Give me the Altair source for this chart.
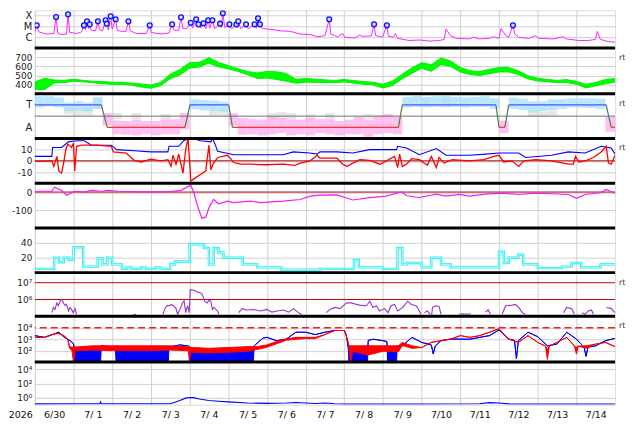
import json
import altair as alt
import pandas as pd
import numpy as np

# ---------------- labels ----------------
DAY_LABELS = ["6/30", "7/ 1", "7/ 2", "7/ 3", "7/ 4", "7/ 5", "7/ 6", "7/ 7",
              "7/ 8", "7/ 9", "7/10", "7/11", "7/12", "7/13", "7/14"]
YEAR_LABEL = "2026"
RT_LABEL = "rt"

# ---------------- panel 1: X-ray flux (log10 W/m2), time in days from 6/30 00:00 ----------------
XR_T = [0.00, 0.05, 0.10, 0.31, 0.49, 0.55, 0.59, 0.69, 0.82, 0.86,
        0.90, 1.08, 1.21, 1.27, 1.31, 1.35, 1.39, 1.42, 1.46, 1.57,
        1.63, 1.67, 1.75, 1.83, 1.86, 1.90, 1.96, 2.00, 2.09, 2.13,
        2.23, 2.36, 2.42, 2.47, 2.62, 2.88, 2.97, 3.01, 3.26, 3.47,
        3.55, 3.60, 3.72, 3.78, 3.83, 3.93, 4.03, 4.08, 4.17, 4.20,
        4.23, 4.29, 4.36, 4.42, 4.48, 4.52, 4.59, 4.65, 4.79, 4.82,
        4.86, 4.91, 5.03, 5.09, 5.21, 5.23, 5.26, 5.32, 5.46, 5.52,
        5.68, 5.73, 5.77, 5.80, 5.82, 5.88, 6.09, 6.34, 6.60, 6.86,
        7.12, 7.32, 7.50, 7.61, 7.65, 7.83, 7.96, 8.01, 8.27, 8.40,
        8.45, 8.70, 8.77, 8.81, 8.99, 9.10, 9.14, 9.27, 9.32, 9.38,
        9.68, 9.94, 10.20, 10.46, 10.58, 10.63, 10.76, 10.92, 11.22, 11.35,
        11.48, 11.74, 11.87, 12.00, 12.05, 12.18, 12.25, 12.36, 12.41, 12.51,
        12.77, 12.95, 13.02, 13.40, 13.66, 13.74, 14.06, 14.31, 14.49, 14.54,
        14.62, 14.83, 15.00]
XR_LOG = [-5.55, -4.89, -5.5, -5.7, -5.65, -4.12, -5.6, -5.75, -5.7, -3.87,
          -5.55, -5.65, -5.5, -4.89, -5.3, -4.52, -5.2, -4.80, -5.35, -5.4,
          -4.52, -5.3, -5.4, -4.42, -4.74, -5.3, -4.05, -5.25, -4.33, -5.35,
          -5.45, -5.45, -4.52, -5.4, -5.65, -5.65, -4.89, -5.55, -5.7, -5.6,
          -4.80, -5.35, -5.35, -4.14, -5.2, -5.2, -4.65, -5.15, -4.33, -5.0,
          -4.80, -5.15, -4.70, -5.2, -4.42, -5.15, -4.42, -5.2, -4.74, -5.1,
          -3.77, -5.1, -4.80, -5.2, -4.80, -5.1, -4.52, -5.2, -4.80, -5.2,
          -4.80, -5.15, -4.24, -5.0, -4.80, -5.2, -5.25, -5.4, -5.45, -5.7,
          -5.75, -5.95, -5.85, -4.33, -5.7, -5.95, -5.65, -6.0, -6.07, -5.8,
          -5.9, -5.88, -4.80, -5.85, -5.98, -4.89, -5.9, -6.0, -5.65, -6.1,
          -6.3, -6.25, -6.35, -6.3, -6.2, -5.25, -5.9, -6.1, -6.15, -6.0,
          -6.15, -6.1, -5.95, -6.1, -5.2, -5.85, -6.0, -4.89, -5.7, -6.0,
          -6.1, -5.85, -6.1, -6.15, -5.95, -6.15, -6.3, -6.3, -6.2, -5.45,
          -6.2, -6.4, -6.45]
FLARE_T = [0.05, 0.55, 0.86, 1.27, 1.35, 1.42, 1.63, 1.83, 1.86, 1.96,
           2.09, 2.42, 2.97, 3.55, 3.78, 4.03, 4.17, 4.23, 4.36, 4.48,
           4.59, 4.79, 4.86, 5.03, 5.21, 5.26, 5.46, 5.68, 5.77, 5.82,
           7.61, 8.77, 9.10, 12.36]
FLARE_LOG = [-4.89, -4.12, -3.87, -4.89, -4.52, -4.80, -4.52, -4.42, -4.74, -4.05,
             -4.33, -4.52, -4.89, -4.80, -4.14, -4.65, -4.33, -4.80, -4.70, -4.42,
             -4.42, -4.74, -3.77, -4.80, -4.80, -4.52, -4.80, -4.80, -4.24, -4.80,
             -4.33, -4.80, -4.89, -4.89]

# ---------------- panel 2: solar wind speed trace extent (km/s), every 6 h ----------------
SPEED_LO = [351, 345, 419, 422, 438, 431, 420, 410, 403, 403,
            395, 375, 361, 388, 465, 505, 580, 594, 635, 594,
            573, 545, 509, 468, 472, 456, 438, 416, 427, 425,
            423, 422, 430, 416, 404, 397, 364, 391, 465, 524,
            580, 546, 620, 598, 539, 511, 500, 520, 539, 539,
            511, 462, 441, 432, 422, 423, 404, 364, 388, 409, 427]
SPEED_HI = [429, 470, 451, 446, 458, 447, 436, 435, 426, 426,
            416, 407, 395, 423, 513, 565, 640, 643, 695, 643,
            609, 573, 543, 528, 544, 540, 522, 458, 467, 460,
            452, 446, 456, 444, 434, 425, 404, 439, 513, 584,
            640, 618, 692, 658, 587, 552, 541, 568, 587, 587,
            552, 498, 470, 457, 446, 455, 434, 404, 423, 457, 467]

# ---------------- panel 3: IMF angle spread (deg) per 6-h bin, sector line ----------------
PHI_LO = [295, 305, 295, 265, 270, 262, 285, 150, 80, 75,
          70, 80, 70, 80, 80, 120, 280, 270, 270, 262,
          150, 75, 80, 70, 80, 90, 70, 80, 70, 90,
          80, 70, 80, 80, 60, 80, 90, 80, 295, 300,
          295, 300, 295, 300, 295, 300, 300, 285, 90, 285,
          275, 255, 265, 275, 285, 295, 295, 290, 285, 100]
PHI_HI = [385, 385, 375, 335, 345, 335, 380, 250, 190, 185,
          195, 185, 185, 195, 200, 250, 360, 355, 350, 340,
          250, 210, 200, 195, 220, 210, 200, 195, 210, 200,
          200, 185, 195, 220, 195, 230, 240, 220, 380, 388,
          380, 385, 388, 380, 375, 380, 385, 370, 190, 375,
          365, 345, 345, 360, 360, 370, 370, 370, 365, 220]
GREY_T = [0.75, 1.0, 1.25, 1.5, 2.0, 2.5, 3.25, 4.5, 4.75, 6.0,
          6.25, 6.5, 7.0, 7.5, 8.5, 10.0, 10.5, 12.75, 13.0, 13.25]
GREY_LO = [240, 230, 230, 280, 200, 200, 190, 230, 230, 190,
           200, 200, 180, 200, 200, 300, 300, 220, 220, 230]
GREY_HI = [300, 290, 300, 370, 250, 250, 240, 280, 280, 250,
           260, 250, 240, 250, 240, 370, 370, 260, 260, 270]
SECTOR_T = [0, 1.72, 1.87, 3.88, 4.01, 5.01, 5.11, 9.40, 9.50, 11.92,
            12.0, 12.15, 12.25, 14.77, 14.90, 15.0]
SECTOR_PHI = [315, 315, 135, 135, 315, 315, 135, 135, 315, 315,
              135, 135, 315, 315, 135, 135]

# ---------------- panel 4: IMF Bt / Bz (nT) ----------------
BT_T = [0, 0.44, 0.46, 0.69, 0.87, 1.08, 1.28, 1.46, 1.98, 2.11,
        2.57, 3.0, 3.44, 3.47, 3.72, 3.85, 3.96, 4.08, 4.29, 4.55,
        4.60, 4.73, 5.14, 5.57, 6.42, 6.68, 7.11, 7.30, 7.37, 7.81,
        8.22, 8.66, 9.35, 9.38, 9.61, 9.94, 10.38, 10.63, 11.23, 11.66,
        12.0, 12.51, 12.69, 13.36, 13.79, 14.23, 14.64, 14.90, 15.0]
BT_V = [4, 4, 12, 12, 17, 18, 18, 14, 14, 10,
        9, 8, 8, 13, 13, 18, 20, 20, 18, 17,
        20, 8.5, 5.5, 5.5, 5.5, 8, 7, 6, 8, 8,
        7, 10, 10, 13, 11.5, 5.5, 11, 5, 5, 6,
        7, 7, 3, 5, 8, 7, 13, 11.5, 6]
BZ_T = [0, 0.44, 0.49, 0.57, 0.62, 0.69, 0.74, 0.80, 0.85, 0.95,
        1.0, 1.03, 1.08, 1.21, 1.59, 1.98, 2.03, 2.36, 2.49, 2.57,
        2.75, 3.0, 3.26, 3.44, 3.52, 3.57, 3.65, 3.72, 3.83, 3.9,
        3.96, 4.01, 4.03, 4.16, 4.29, 4.42, 4.50, 4.55, 4.62, 4.73,
        4.98, 5.06, 5.14, 5.32, 5.57, 5.96, 6.42, 6.73, 6.86, 7.12,
        7.30, 7.37, 7.81, 7.96, 8.07, 8.22, 8.40, 8.66, 8.92, 9.09,
        9.30, 9.38, 9.43, 9.50, 9.61, 9.74, 9.94, 10.15, 10.25, 10.38,
        10.45, 10.58, 10.79, 11.23, 11.61, 11.87, 12.0, 12.12, 12.33, 12.51,
        12.64, 12.95, 13.36, 13.66, 13.79, 13.92, 13.98, 14.06, 14.23, 14.44,
        14.64, 14.77, 14.83, 14.90, 15.0]
BZ_V = [-0.5, 0, -5, 4, -9, -11, -3, 10, 15, 12,
        16, -9, 13, 14, 14, 13, 8, 7, 3, 0.5,
        -1, 1.5, 0, 1, -5, 5, -3, 6, -11, 10,
        20, -5, -18, -15, -12, -9, 14, -8, -2, 3,
        5, 2, -1.5, -3, -3, -3.5, -3, -4, -2, 0,
        5, 2.5, 2.5, -3, -5, -2, 1, 0.5, -3, 0,
        4, -6, 6, -5, -3, 2, 1, -4, 4, -6,
        3, -2, 1, 0, 1, 4, 5, -1, 0, -5,
        0, 1, 0, -2, -3, -3, 4, -1, 0, 3,
        8, 13, -2, -3, 5]

# ---------------- panel 5: Dst (nT) ----------------
DST_T = [0, 0.44, 0.51, 0.64, 0.69, 0.82, 1.03, 1.28, 1.46, 1.72,
         1.90, 2.16, 2.75, 3.44, 3.78, 4.03, 4.11, 4.21, 4.32, 4.42,
         4.50, 4.62, 4.75, 4.98, 5.14, 5.57, 5.83, 6.42, 6.86, 7.12,
         7.37, 7.81, 8.22, 8.66, 9.09, 9.48, 9.61, 9.94, 10.38, 10.63,
         10.97, 11.23, 11.66, 12.07, 12.51, 12.95, 13.36, 13.79, 14.0, 14.23,
         14.64, 14.77, 15.0]
DST_V = [5, 5, 28, 15, 10, -17, 5, 0, 10, 5,
         10, 5, 2, 2, 10, 39, -2, -80, -146, -140,
         -87, -41, -65, -50, -59, -50, -59, -50, -41, -22,
         -17, -15, -44, -31, -22, 2, -20, -30, -11, -22,
         -13, -22, -11, -6, -13, -6, -9, -13, -35, -13,
         -2, 15, -6]

# ---------------- panel 6: 3-hourly index ----------------
KP_V = [5, 5, 5, 5, 20, 14, 20, 17, 34, 34,
        8, 8, 8, 19, 11, 20, 11, 11, 5, 7,
        5, 5, 7, 5, 5, 7, 5, 5, 11, 15,
        15, 15, 38, 38, 38, 33, 11, 33, 27, 20,
        20, 20, 20, 11, 11, 11, 7, 7, 7, 7,
        7, 4, 4, 4, 4, 4, 4, 4, 4, 5,
        5, 5, 5, 5, 5, 5, 17, 7, 7, 7,
        7, 7, 5, 5, 5, 33, 11, 13, 13, 13,
        7, 7, 20, 20, 11, 11, 7, 7, 7, 7,
        7, 7, 7, 7, 7, 7, 28, 13, 20, 20,
        24, 11, 11, 11, 6, 6, 6, 6, 6, 8,
        8, 13, 13, 7, 7, 7, 7, 11, 11, 11,
        11]

# ---------------- panel 7: particle fluence (log10), visible segments ----------------
PF_SEG_T = [
    [0.44, 0.48, 0.52, 0.57, 0.61, 0.65, 0.69, 0.74, 0.78, 0.82, 0.87, 0.91, 0.95, 0.99, 1.04, 1.08],
    [2.55, 2.58, 2.62],
    [3.31, 3.37, 3.43, 3.48, 3.52, 3.59, 3.65, 3.69, 3.75, 3.82, 3.86, 3.90, 3.95, 3.99,
     4.02, 4.12, 4.20, 4.29, 4.33, 4.39, 4.46, 4.50, 4.55, 4.59, 4.63, 4.72, 4.76],
    [5.27, 5.36, 5.49, 5.66, 5.83, 6.00, 6.13, 6.26, 6.43, 6.56, 6.69, 6.81, 6.90],
    [7.54, 7.63, 7.76, 7.89, 8.06, 8.19, 8.32, 8.44, 8.57, 8.66, 8.74, 8.83, 8.91, 9.04,
     9.13, 9.21, 9.30, 9.38, 9.51, 9.64, 9.73, 9.86, 9.94, 9.98],
    [10.07, 10.15, 10.22],
    [10.26, 10.28, 10.37, 10.45, 10.50],
    [10.97, 11.07, 11.17, 11.27],
    [11.65, 11.72, 11.78],
    [12.08, 12.17, 12.30, 12.43, 12.51, 12.60, 12.68],
    [13.67, 13.75, 13.88, 13.95],
    [14.14, 14.22, 14.31, 14.39, 14.44],
    [14.78, 14.91, 14.99],
]
PF_SEG_LOG = [
    [5.22, 5.53, 5.41, 5.80, 5.63, 5.90, 6.00, 5.80, 5.65, 5.71, 5.32, 5.53, 5.41, 5.22, 5.46, 5.12],
    [5.08, 5.12, 5.08],
    [5.12, 5.50, 5.65, 5.63, 5.71, 5.63, 5.46, 5.12, 5.41, 5.80, 5.92, 5.22, 5.63, 5.22,
     6.59, 6.55, 6.45, 6.39, 6.29, 5.90, 5.80, 5.96, 5.90, 5.41, 5.53, 5.32, 5.12],
    [5.22, 5.46, 5.38, 5.41, 5.32, 5.41, 5.25, 5.32, 5.38, 5.25, 5.46, 5.22, 5.12],
    [5.22, 5.41, 5.53, 5.46, 5.80, 5.80, 5.71, 5.65, 5.63, 5.90, 5.53, 5.63, 5.32, 5.46,
     5.22, 5.63, 5.71, 5.32, 5.53, 5.90, 5.71, 5.63, 5.32, 5.12],
    [5.22, 5.32, 5.12],
    [5.10, 5.53, 5.63, 5.59, 5.12],
    [5.12, 5.15, 5.12, 5.15],
    [5.25, 5.38, 5.12],
    [5.12, 5.63, 5.65, 5.71, 5.53, 5.22, 5.12],
    [5.22, 5.53, 5.46, 5.12],
    [5.22, 5.12, 5.32, 5.38, 5.12],
    [5.53, 5.46, 5.22],
]

# ---------------- panel 8: electron flux (log10), top / bottom of trace ----------------
EB_T = [0, 0.25, 0.5, 0.62, 0.75, 0.9, 1.0, 1.02, 1.7, 1.72,
        2.08, 2.1, 3.45, 3.47, 3.75, 3.98, 4.0, 5.65, 5.67, 5.9,
        6.0, 6.25, 6.5, 6.75, 7.0, 7.25, 7.5, 7.75, 8.0, 8.05,
        8.1, 8.12, 8.6, 8.62, 8.75, 9.0, 9.1, 9.12, 9.35, 9.37,
        9.5, 9.75, 10.0, 10.25, 10.3, 10.35, 10.5, 10.75, 11.0, 11.25,
        11.5, 11.75, 12.0, 12.25, 12.4, 12.45, 12.5, 12.75, 13.0, 13.25,
        13.5, 13.75, 14.0, 14.2, 14.25, 14.3, 14.5, 14.75, 15.0]
EB_HI = [3.31, 3.16, 3.46, 3.61, 3.2, 2.9, 2.6, 2.3, 2.2, 2.42,
         2.3, 2.1, 2.1, 2.3, 2.5, 2.4, 2.05, 2.05, 2.42, 3.1,
         3.16, 2.87, 3.01, 3.61, 3.61, 3.4, 3.61, 3.76, 3.76, 3.4,
         2.3, 2.1, 2.1, 2.9, 3.0, 2.87, 2.8, 2.2, 2.2, 2.42,
         2.42, 3.16, 2.72, 2.5, 1.7, 2.4, 2.87, 3.01, 3.01, 3.0,
         3.16, 3.31, 3.81, 3.01, 2.9, 1.3, 2.87, 3.61, 3.22, 2.42,
         2.57, 3.61, 3.01, 2.3, 1.5, 2.3, 2.42, 2.87, 3.07]
EB_LO = [3.31, 3.16, 3.46, 3.61, 3.2, 2.9, 2.6, 1.0, 1.0, 2.42,
         2.3, 1.0, 1.0, 2.3, 2.5, 2.4, 1.0, 1.0, 2.42, 3.1,
         3.16, 2.87, 3.01, 3.61, 3.61, 3.4, 3.61, 3.76, 3.76, 3.4,
         2.3, 1.0, 1.0, 2.9, 3.0, 2.87, 2.8, 1.0, 1.0, 2.42,
         2.42, 3.16, 2.72, 2.5, 1.7, 2.4, 2.87, 3.01, 3.01, 3.0,
         3.16, 3.31, 3.81, 3.01, 2.9, 1.3, 2.87, 3.61, 3.22, 2.42,
         2.57, 3.61, 3.01, 2.3, 1.5, 2.3, 2.42, 2.87, 3.07]
ER_T = [0, 0.25, 0.5, 0.62, 0.75, 0.85, 0.9, 0.96, 1.0, 1.04,
        1.2, 1.5, 2.0, 2.5, 3.0, 3.5, 3.9, 3.97, 4.0, 4.03,
        4.1, 4.5, 5.0, 5.5, 5.75, 6.0, 6.25, 6.5, 6.75, 7.0,
        7.25, 7.5, 7.75, 8.0, 8.08, 8.12, 8.17, 8.22, 8.3, 8.6,
        9.0, 9.4, 9.5, 9.75, 10.0, 10.25, 10.5, 10.75, 11.0, 11.25,
        11.5, 11.75, 12.0, 12.25, 12.5, 12.75, 13.0, 13.2, 13.25, 13.3,
        13.5, 13.75, 13.95, 14.0, 14.05, 14.25, 14.5, 14.75, 15.0]
ER_HI = [3.16, 3.16, 3.46, 3.5, 3.31, 3.0, 2.35, 2.3, 2.3, 2.3,
         2.35, 2.42, 2.42, 2.42, 2.42, 2.42, 2.35, 2.3, 2.3, 2.3,
         2.27, 2.2, 2.27, 2.35, 2.35, 2.5, 2.8, 3.01, 3.16, 3.16,
         3.16, 3.4, 3.76, 3.76, 3.0, 2.42, 2.42, 2.42, 2.42, 2.42,
         2.42, 2.42, 2.72, 2.42, 2.27, 2.72, 2.87, 3.01, 3.31, 3.16,
         3.31, 3.61, 3.91, 3.01, 2.72, 3.31, 2.72, 2.4, 2.1, 2.4,
         2.72, 3.16, 2.4, 2.27, 2.4, 2.42, 2.57, 2.72, 2.35]
ER_LO = [3.16, 3.16, 3.46, 3.5, 3.31, 3.0, 2.2, 2.0, 1.0, 2.0,
         2.0, 2.05, 2.0, 2.0, 2.0, 2.05, 2.0, 2.0, 1.0, 1.9,
         1.85, 1.8, 1.85, 1.95, 2.1, 2.3, 2.6, 2.9, 3.0, 3.05,
         3.05, 3.4, 3.76, 3.76, 3.0, 2.3, 1.0, 1.9, 1.9, 1.6,
         1.95, 1.9, 2.45, 2.2, 2.27, 2.72, 2.87, 3.01, 3.31, 3.16,
         3.31, 3.61, 3.91, 3.01, 2.72, 3.31, 2.72, 2.4, 1.24, 2.4,
         2.72, 3.16, 2.4, 1.7, 2.4, 2.2, 2.57, 2.72, 2.35]

# ---------------- panel 9: flux (log10) ----------------
P9_T = [0, 1.0, 1.68, 1.70, 1.72, 3.5, 3.6, 3.75, 3.9, 4.0,
        4.1, 4.25, 4.5, 4.75, 5.0, 5.5, 6.0, 6.5, 6.75, 7.0,
        7.25, 7.5, 7.75, 8.0, 10.0, 11.5, 11.75, 12.0, 12.25, 15.0]
P9_LOG = [-0.88, -0.85, -0.85, -0.6, -0.85, -0.86, -0.68, -0.4, -0.07, 0.02,
          0.0, -0.2, -0.4, -0.5, -0.6, -0.76, -0.8, -0.76, -0.68, -0.76,
          -0.82, -0.76, -0.85, -0.9, -0.9, -0.85, -0.7, -0.76, -0.88, -0.9]

# ======================================================================
W = 584
FONT = "DejaVu Sans"
GRID = "#d0d0d0"
T6H = np.arange(61) * 0.25
TBIN = np.arange(60) * 0.25
T3H = np.arange(121) * 0.125

X_SCALE = alt.Scale(domain=[0, 15], nice=False, zero=False)
DAY_TICKS = list(range(15))


def X(last=False):
    if last:
        ax = alt.Axis(values=DAY_TICKS, grid=True, gridColor=GRID, ticks=False, domain=False,
                      title=None, labelExpr=json.dumps(DAY_LABELS) + "[datum.value]",
                      labelOffset=19.5, labelPadding=5, labelFont=FONT, labelFontSize=9.5,
                      labelColor="#111", labelAngle=0, labelOverlap=False, labelFlush=False)
    else:
        ax = alt.Axis(values=DAY_TICKS, grid=True, gridColor=GRID, ticks=False, domain=False,
                      labels=False, title=None)
    return alt.X("t:Q", scale=X_SCALE, axis=ax)


def Y(domain, vals, labels, size=9, grid=True):
    expr = "''"
    for v, l in zip(vals, labels):
        expr = f"datum.value == {v} ? {json.dumps(l, ensure_ascii=False)} : ({expr})"
    ax = alt.Axis(values=vals, labelExpr=expr, grid=grid, gridColor=GRID, ticks=False,
                  domain=False, title=None, labelFont=FONT, labelFontSize=size,
                  labelColor="#222", labelPadding=3)
    return alt.Y("v:Q", scale=alt.Scale(domain=domain, nice=False, zero=False), axis=ax)


ONE = pd.DataFrame({"k": [0]})


def panel(layers, h, sep=True, rt=False):
    ls = list(layers)
    if sep:
        ls.append(alt.Chart(ONE).mark_rule(color="black", strokeWidth=3).encode(y=alt.value(0)))
    if rt:
        ls.append(alt.Chart(pd.DataFrame({"label": [RT_LABEL]})).mark_text(
            align="left", baseline="middle", font=FONT, fontSize=8, color="#333").encode(
            x=alt.value(W + 4), y=alt.value(10), text="label:N"))
    return alt.layer(*ls).properties(width=W, height=h)


def hline(yenc, val, **kw):
    return alt.Chart(pd.DataFrame({"v": [val]})).mark_rule(**kw).encode(y=yenc)


# ---- panel 1
y1 = Y([-7, -3.5], [-6, -5, -4], ["C", "M", "X"], size=10)
p1 = panel([
    alt.Chart(pd.DataFrame({"t": XR_T, "v": XR_LOG})).mark_line(
        color="#ff22ff", strokeWidth=1, clip=True).encode(x=X(), y=y1),
    alt.Chart(pd.DataFrame({"t": FLARE_T, "v": FLARE_LOG})).mark_circle(
        size=24, color="#d6d6ff", opacity=1, stroke="#1010ff", strokeWidth=1.3, clip=True
    ).encode(x=X(), y=y1),
], 38, sep=False)

# ---- panel 2
y2 = Y([300, 800], [400, 500, 600, 700], ["400", "500", "600", "700"])
p2 = panel([
    alt.Chart(pd.DataFrame({"t": T6H, "v": SPEED_LO, "v2": SPEED_HI})).mark_area(
        color="#00ff00", stroke="#00ee00", strokeWidth=1, clip=True).encode(
        x=X(), y=y2, y2="v2:Q"),
], 46, rt=True)

# ---- panel 3
y3 = Y([45, 405], [135, 315], ["A", "T"], size=10, grid=False)
pb = pd.DataFrame({"t": TBIN, "t2": TBIN + 0.25, "v": PHI_LO, "v2": PHI_HI})
pb_t = pb[(pb.v + pb.v2) / 2 > 225]
pb_a = pb[(pb.v + pb.v2) / 2 <= 225]
gr = pd.DataFrame({"t": GREY_T, "t2": np.array(GREY_T) + 0.25, "v": GREY_LO, "v2": GREY_HI})
seg = pd.DataFrame({"t": SECTOR_T[:-1], "t2": SECTOR_T[1:], "v": SECTOR_PHI[:-1], "v2": SECTOR_PHI[1:]})
seg_t = seg[(seg.v == seg.v2) & (seg.v == 315)]
seg_a = seg[(seg.v == seg.v2) & (seg.v == 135)]
seg_x = seg[seg.v != seg.v2]
p3 = panel([
    alt.Chart(gr).mark_rect(color="#d4d4d4", opacity=0.55, clip=True).encode(x=X(), x2="t2:Q", y=y3, y2="v2:Q"),
    alt.Chart(pb_t).mark_rect(color="#a6e2fc", opacity=0.8, clip=True).encode(x=X(), x2="t2:Q", y=y3, y2="v2:Q"),
    alt.Chart(pb_a).mark_rect(color="#ffb0ee", opacity=0.8, clip=True).encode(x=X(), x2="t2:Q", y=y3, y2="v2:Q"),
    hline(y3, 225, color="#707070", strokeWidth=1),
    alt.Chart(seg_t).mark_rule(color="#5050ff", strokeWidth=1.2).encode(x=X(), x2="t2:Q", y=y3, y2="v2:Q"),
    alt.Chart(seg_a).mark_rule(color="#ff3030", strokeWidth=1.2).encode(x=X(), x2="t2:Q", y=y3, y2="v2:Q"),
    alt.Chart(seg_x).mark_rule(color="#4a7d4a", strokeWidth=1.2).encode(x=X(), x2="t2:Q", y=y3, y2="v2:Q"),
], 45, rt=True)

# ---- panel 4
y4 = Y([-20, 20], [-10, 0, 10], ["-10", "0", "10"])
p4 = panel([
    hline(y4, 0, color="#a00000", strokeWidth=1),
    alt.Chart(pd.DataFrame({"t": BT_T, "v": BT_V})).mark_line(
        color="#0000ff", strokeWidth=1.1, clip=True).encode(x=X(), y=y4),
    alt.Chart(pd.DataFrame({"t": BZ_T, "v": BZ_V})).mark_line(
        color="#ff0000", strokeWidth=1.3, clip=True).encode(x=X(), y=y4),
], 45, rt=True)

# ---- panel 5
y5 = Y([-200, 50], [-100, 0], ["-100", "0"])
p5 = panel([
    hline(y5, 0, color="#c87070", strokeWidth=2),
    alt.Chart(pd.DataFrame({"t": DST_T, "v": DST_V})).mark_line(
        color="#f020f0", strokeWidth=1.2, clip=True).encode(x=X(), y=y5),
], 45)

# ---- panel 6
y6 = Y([0, 60], [20, 40], ["20", "40"])
kp = pd.DataFrame({"t": T3H, "v": KP_V})
p6 = panel([
    alt.Chart(kp).mark_line(color="#10f0f0", strokeWidth=2.4, interpolate="step-after", clip=True).encode(x=X(), y=y6),
    alt.Chart(kp).mark_line(color="#ffffff", strokeWidth=0.7, interpolate="step-after", clip=True).encode(x=X(), y=y6),
], 45)

# ---- panel 7
y7 = Y([5, 7.6], [6, 7], ["10⁶", "10⁷"], grid=False)
pf_rows = []
for i, (ts, vs) in enumerate(zip(PF_SEG_T, PF_SEG_LOG)):
    for t, v in zip(ts, vs):
        pf_rows.append({"t": t, "v": v, "seg": i})
pf = pd.DataFrame(pf_rows)
p7 = panel([
    hline(y7, 6, color="#cc0000", strokeWidth=1),
    hline(y7, 7, color="#cc0000", strokeWidth=1),
    alt.Chart(pf).mark_line(color="#9933cc", strokeWidth=1.1, clip=True).encode(
        x=X(), y=y7, detail="seg:N"),
], 44, rt=True)

# ---- panel 8
y8 = Y([1, 5], [2, 3, 4], ["10²", "10³", "10⁴"])
p8 = panel([
    alt.Chart(pd.DataFrame({"t": EB_T, "v": EB_LO, "v2": EB_HI})).mark_area(
        color="#0000ff", stroke="#0000ff", strokeWidth=1, clip=True).encode(x=X(), y=y8, y2="v2:Q"),
    alt.Chart(pd.DataFrame({"t": ER_T, "v": ER_LO, "v2": ER_HI})).mark_area(
        color="#ff0000", stroke="#ff0000", strokeWidth=1, clip=True).encode(x=X(), y=y8, y2="v2:Q"),
    hline(y8, 4, color="#ee2222", strokeWidth=1.3, strokeDash=[7, 4]),
], 46, rt=True)

# ---- panel 9
y9 = Y([-1, 5], [0, 2, 4], ["10⁰", "10²", "10⁴"])
p9 = panel([
    alt.Chart(pd.DataFrame({"t": P9_T, "v": P9_LOG})).mark_line(
        color="#0000ff", strokeWidth=1.1, clip=True).encode(x=X(last=True), y=y9),
    alt.Chart(pd.DataFrame({"label": [YEAR_LABEL]})).mark_text(
        align="right", baseline="top", font=FONT, fontSize=9.5, color="#111").encode(
        x=alt.value(-2), y=alt.value(43 + 5), text="label:N"),
], 43)

chart = alt.vconcat(p1, p2, p3, p4, p5, p6, p7, p8, p9, spacing=0, bounds="flush",
                    padding={"left": 0, "top": 0, "right": 0, "bottom": 0}).configure_view(
    stroke="black", strokeWidth=1).configure(background="white")

chart.save("out.html", embed_options={"renderer": "svg", "actions": False})
